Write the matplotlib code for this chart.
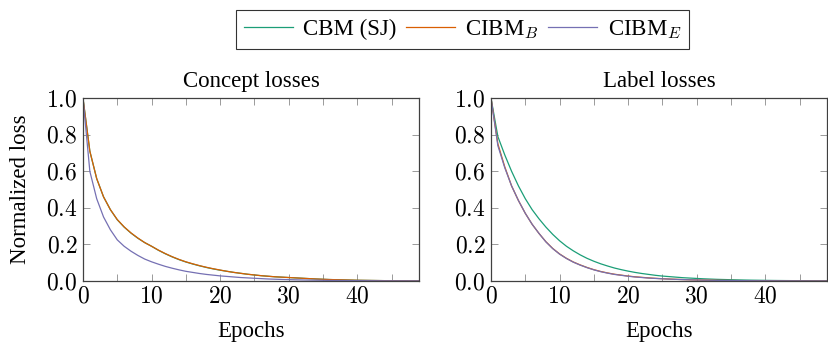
import numpy as np
import matplotlib
matplotlib.use("Agg")
import matplotlib.pyplot as plt
from matplotlib.ticker import MultipleLocator, FuncFormatter

plt.rcParams["font.family"] = ["Liberation Serif", "DejaVu Serif"]
plt.rcParams["mathtext.fontset"] = "cm"

epochs = np.arange(50)

# concept losses (CBM (SJ) and CIBM_B lie almost on top of each other)
concept_cbm = [1.0, 0.71, 0.56, 0.46, 0.39, 0.335, 0.295, 0.262, 0.234, 0.21,
               0.19, 0.168, 0.149, 0.132, 0.117, 0.104, 0.093, 0.083, 0.074, 0.066,
               0.059, 0.053, 0.047, 0.042, 0.037, 0.033, 0.029, 0.026, 0.023, 0.021,
               0.019, 0.017, 0.015, 0.013, 0.011, 0.0095, 0.008, 0.007, 0.006, 0.005,
               0.004, 0.0035, 0.003, 0.0025, 0.002, 0.0017, 0.0014, 0.0012, 0.001, 0.0008]
concept_cibm_b = [1.0, 0.71, 0.56, 0.46, 0.39, 0.336, 0.296, 0.263, 0.235, 0.21,
                  0.19, 0.169, 0.15, 0.133, 0.118, 0.105, 0.094, 0.084, 0.075, 0.067,
                  0.06, 0.053, 0.047, 0.042, 0.037, 0.033, 0.029, 0.026, 0.023, 0.021,
                  0.019, 0.017, 0.015, 0.013, 0.011, 0.0095, 0.008, 0.007, 0.006, 0.005,
                  0.004, 0.0035, 0.003, 0.0025, 0.002, 0.0017, 0.0014, 0.0012, 0.001, 0.0008]
concept_cibm_e = [1.0, 0.60, 0.45, 0.35, 0.28, 0.225, 0.19, 0.163, 0.14, 0.12,
                  0.105, 0.092, 0.08, 0.07, 0.061, 0.053, 0.047, 0.041, 0.036, 0.032,
                  0.028, 0.025, 0.022, 0.019, 0.017, 0.015, 0.013, 0.011, 0.0097, 0.0085,
                  0.0075, 0.0065, 0.0057, 0.005, 0.0044, 0.0038, 0.0033, 0.0029, 0.0025, 0.0022,
                  0.0019, 0.0017, 0.0015, 0.0013, 0.0011, 0.001, 0.0009, 0.0008, 0.0007, 0.0006]

# label losses (CIBM_B and CIBM_E overlap)
label_cbm = [1.0, 0.79, 0.69, 0.60, 0.52, 0.45, 0.39, 0.34, 0.295, 0.255,
             0.22, 0.19, 0.165, 0.143, 0.124, 0.108, 0.094, 0.082, 0.071, 0.062,
             0.054, 0.047, 0.041, 0.036, 0.031, 0.027, 0.024, 0.021, 0.018, 0.016,
             0.014, 0.012, 0.0105, 0.009, 0.008, 0.007, 0.006, 0.0052, 0.0045, 0.004,
             0.0035, 0.003, 0.0026, 0.0023, 0.002, 0.0017, 0.0015, 0.0013, 0.0011, 0.001]
label_cibm_b = [1.0, 0.75, 0.625, 0.52, 0.44, 0.37, 0.31, 0.26, 0.215, 0.178,
                0.148, 0.124, 0.104, 0.088, 0.074, 0.062, 0.052, 0.044, 0.037, 0.032,
                0.027, 0.023, 0.02, 0.017, 0.0145, 0.0125, 0.0107, 0.0092, 0.0079, 0.0068,
                0.0058, 0.005, 0.0043, 0.0037, 0.0032, 0.0028, 0.0024, 0.0021, 0.0018, 0.0016,
                0.0014, 0.0012, 0.001, 0.0009, 0.0008, 0.0007, 0.0006, 0.0005, 0.0005, 0.0004]
label_cibm_e = [1.0, 0.74, 0.62, 0.52, 0.44, 0.37, 0.31, 0.26, 0.214, 0.177,
                0.147, 0.123, 0.103, 0.087, 0.073, 0.061, 0.051, 0.043, 0.036, 0.031,
                0.026, 0.022, 0.019, 0.016, 0.014, 0.012, 0.0103, 0.0089, 0.0076, 0.0065,
                0.0056, 0.0048, 0.0041, 0.0035, 0.003, 0.0026, 0.0022, 0.0019, 0.0016, 0.0014,
                0.0012, 0.001, 0.0009, 0.0008, 0.0007, 0.0006, 0.0005, 0.0004, 0.0004, 0.0003]

names = ["CBM (SJ)", "CIBM$_B$", "CIBM$_E$"]
colors = ["#1b9e77", "#d95f02", "#7570b3"]
titles = ["Concept losses", "Label losses"]

fig = plt.figure(figsize=(8.29, 3.45), dpi=100)
ax1 = fig.add_axes([0.1001, 0.1855, 0.4053, 0.530])
ax2 = fig.add_axes([0.5923, 0.1855, 0.4053, 0.530])

series = [[concept_cbm, concept_cibm_b, concept_cibm_e],
          [label_cbm, label_cibm_b, label_cibm_e]]

handles = []
for ax, title, data in zip([ax1, ax2], titles, series):
    for vals, name, c in zip(data, names, colors):
        h, = ax.plot(epochs, vals, color=c, lw=0.9, label=name)
        if ax is ax1:
            handles.append(h)
    ax.set_xlim(0, 49)
    ax.set_ylim(0, 1)
    ax.set_title(title, fontsize=16.5, pad=8)
    ax.set_xlabel("Epochs", fontsize=16.5, labelpad=10)
    ax.xaxis.set_major_locator(MultipleLocator(10))
    ax.xaxis.set_minor_locator(MultipleLocator(5))
    ax.yaxis.set_major_locator(MultipleLocator(0.2))
    ax.xaxis.set_major_formatter(FuncFormatter(lambda v, p: "$%d$" % v))
    ax.yaxis.set_major_formatter(FuncFormatter(lambda v, p: "$%.1f$" % v))
    ax.tick_params(which="both", direction="in", top=True, right=True,
                   length=5, width=0.6, color="#8a8a8a", labelsize=17)
    ax.tick_params(axis="x", pad=4)
    ax.tick_params(axis="y", pad=4)
    for s in ax.spines.values():
        s.set_color("#404040")
        s.set_linewidth(0.9)

ax1.set_ylabel("Normalized loss", fontsize=16.5, labelpad=11)

leg = fig.legend(handles=handles, loc="center", bbox_to_anchor=(0.558, 0.914),
                 ncol=3, fontsize=16.5, frameon=True, fancybox=False,
                 handlelength=2.15, handletextpad=0.45, columnspacing=0.4,
                 borderpad=0.35, borderaxespad=0)
leg.get_frame().set_edgecolor("black")
leg.get_frame().set_linewidth(0.8)

fig.savefig("out.png", dpi=100)
